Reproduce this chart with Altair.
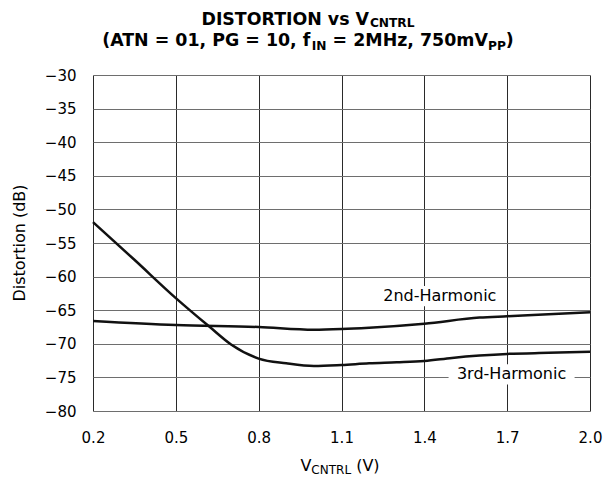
import altair as alt
import pandas as pd

# ---------------- data ----------------
x_2nd = [0.2, 0.5, 0.8, 1.0, 1.1, 1.2, 1.4, 1.6, 1.7, 1.85, 2.0]
y_2nd = [-66.6, -67.2, -67.5, -67.9, -67.8, -67.6, -67.0, -66.1, -65.9, -65.6, -65.3]

x_3rd = [0.2, 0.35, 0.5, 0.62, 0.7, 0.8, 0.9, 1.0, 1.1, 1.2, 1.3, 1.4, 1.5, 1.6, 1.7, 1.85, 2.0]
y_3rd = [-51.9, -57.5, -63.2, -67.4, -70.1, -72.2, -72.9, -73.3, -73.15, -72.9, -72.75, -72.55, -72.1,
         -71.75, -71.5, -71.35, -71.2]

label_text = ["2nd-Harmonic", "3rd-Harmonic"]
label_x = [1.456, 1.716]
label_y = [-62.9, -74.55]

x_ticks = [0.2, 0.5, 0.8, 1.1, 1.4, 1.7, 2.0]
y_ticks = [-80, -75, -70, -65, -60, -55, -50, -45, -40, -35, -30]

# ---------------- layout ----------------
W, H = 497, 336
FONT = "DejaVu Sans"

BOLD_W = {" ": 348, "0": 696, "1": 696, "2": 696, "5": 696, "7": 696, ",": 380, "(": 457, ")": 457,
          "=": 838, "A": 774, "C": 734, "D": 830, "G": 821, "H": 837, "I": 372, "L": 637, "M": 995,
          "N": 837, "O": 850, "P": 733, "R": 770, "S": 720, "T": 682, "V": 774, "f": 435, "m": 1042,
          "s": 595, "v": 652, "z": 582}
REG_W = {" ": 318, "(": 390, ")": 390, "V": 684, "C": 698, "N": 748, "T": 611, "R": 695, "L": 557}


def tw(s, size, table):
    return sum(table.get(c, 650) for c in s) / 1000.0 * size


def txt(text, x, y, size, bold=False, align="left", baseline="alphabetic", angle=0):
    return alt.Chart(alt.Data(values=[{"a": 1}])).mark_text(
        text=text, fontSize=size, font=FONT, fontWeight="bold" if bold else "normal",
        align=align, baseline=baseline, angle=angle, color="black"
    ).encode(x=alt.value(x), y=alt.value(y))


def rich_line(pieces, cx, y, main, sub, bold, table, dy=4):
    widths = [tw(t, sub if s else main, table) for t, s in pieces]
    x = cx - sum(widths) / 2.0
    layers = []
    for (t, s), w in zip(pieces, widths):
        size = sub if s else main
        stripped = t.lstrip(" ")
        lead = tw(t[: len(t) - len(stripped)], size, table)
        layers.append(txt(stripped.rstrip(" "), x + lead, y + (dy if s else 0), size, bold=bold))
        x += w
    return layers


title_cx = 215
title_layers = []
title_layers += rich_line([("DISTORTION vs V", False), ("CNTRL", True)], title_cx, -50.5, 17.4, 12.2, True,
                          BOLD_W, dy=2)
title_layers += rich_line([("(ATN = 01, PG = 10, f", False), ("IN", True), (" = 2MHz, 750mV", False),
                           ("PP", True), (")", False)], title_cx, -29, 17.4, 12.2, True, BOLD_W, dy=3.5)

xtitle_layers = rich_line([("V", False), ("CNTRL", True), (" (V)", False)], 247, 396, 16, 12, False, REG_W, dy=3)
ytitle = txt("Distortion (dB)", -73, H / 2, 16, align="center", baseline="middle", angle=270)

# ---------------- charts ----------------
df = pd.DataFrame({
    "v": x_2nd + x_3rd,
    "d": y_2nd + y_3rd,
    "s": ["2nd"] * len(x_2nd) + ["3rd"] * len(x_3rd),
})

xs = alt.Scale(domain=[0.2, 2.0], nice=False, zero=False)
ys = alt.Scale(domain=[-80, -30], nice=False, zero=False)

x_axis = alt.Axis(values=x_ticks, format=".1f", title=None, grid=True, gridColor="#2a2a2a",
                  gridWidth=1, domain=False, ticks=False, labelFont=FONT, labelFontSize=15,
                  labelColor="black", labelPadding=19, labelFlush=False, labelOverlap=False)
y_axis = alt.Axis(values=y_ticks, format="d", title=None, grid=True, gridColor="#6e6e6e",
                  gridWidth=1, domain=False, ticks=False, labelFont=FONT, labelFontSize=15,
                  labelColor="black", labelPadding=17, labelFlush=False, labelOverlap=False)

lines = alt.Chart(df).mark_line(interpolate="monotone", strokeWidth=2.5, color="#111111").encode(
    x=alt.X("v:Q", scale=xs, axis=x_axis),
    y=alt.Y("d:Q", scale=ys, axis=y_axis),
    detail="s:N",
)

lab_df = pd.DataFrame({"t": label_text, "x": label_x, "y": label_y})

boxes = alt.Chart(lab_df).mark_point(
    shape="M-1,-0.16L1,-0.16L1,0.16L-1,0.16Z", filled=True, color="white", opacity=1,
    size=126 * 126, strokeWidth=0
).encode(x=alt.X("x:Q", scale=xs, axis=x_axis), y=alt.Y("y:Q", scale=ys, axis=y_axis))

labels = alt.Chart(lab_df).mark_text(
    font=FONT, fontSize=16, color="black", align="center", baseline="middle"
).encode(x=alt.X("x:Q", scale=xs, axis=x_axis), y=alt.Y("y:Q", scale=ys, axis=y_axis), text="t:N")

chart = alt.layer(lines, boxes, labels, ytitle, *title_layers, *xtitle_layers).properties(
    width=W, height=H,
    autosize=alt.AutoSizeParams(type="none"),
    padding={"left": 85, "top": 67, "right": 14, "bottom": 66},
).configure_view(stroke="#111111", strokeWidth=2.5).configure(background="white")

chart.save("out.html", embed_options={"renderer": "svg", "actions": False})
